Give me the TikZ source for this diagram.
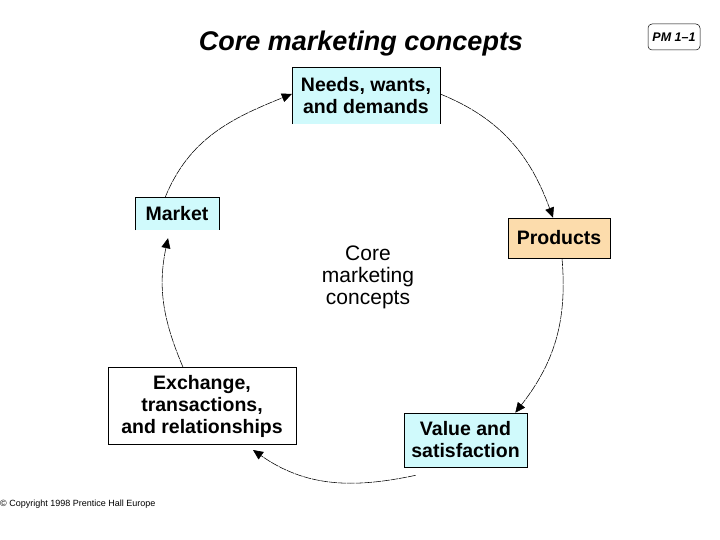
\documentclass[tikz,border=0pt]{standalone}
\usepackage{fontspec}
\setmainfont{Liberation Sans}
\usetikzlibrary{arrows.meta}
\definecolor{lcyan}{RGB}{208,250,252}
\definecolor{lorange}{RGB}{252,220,172}
\tikzset{
  boxtext/.style={font=\fontsize{19.5}{22}\selectfont\bfseries, align=center, inner sep=0pt},
  link/.style={line width=0.55pt, dash pattern=on 8pt off 0.8pt, -{Triangle[length=10pt,width=9pt]}},
}
\begin{document}
\begin{tikzpicture}[x=1pt,y=1pt]
\useasboundingbox (0,0) rectangle (720,540);
% title
\node[font=\fontsize{27}{31}\selectfont\bfseries\itshape] (title) at (361,496) {Core marketing concepts};
\node[draw, rounded corners=4pt, line width=0.5pt, minimum width=52, minimum height=26, inner sep=0pt,
      font=\fontsize{12.5}{14}\selectfont\bfseries\itshape] (pm) at (674,503) {PM 1--1};
% boxes
\node[boxtext, fill=lcyan, minimum width=148, minimum height=56] (needs) at (366,444) {Needs, wants,\\and demands};
\draw[line width=0.6pt] (needs.south west) |- (needs.north east) -- (needs.south east);
\node[boxtext, fill=lcyan, minimum width=84, minimum height=32] (market) at (177,326) {Market};
\draw[line width=0.6pt] (market.south west) |- (market.north east) -- (market.south east);
\node[boxtext, draw, line width=0.6pt, fill=lorange, minimum width=102, minimum height=40] (products) at (559,302) {Products};
\node[boxtext, draw, line width=0.6pt, fill=white, minimum width=188, minimum height=77] (exchange) at (202,134) {Exchange,\\transactions,\\and relationships};
\node[boxtext, draw, line width=0.6pt, fill=lcyan, minimum width=123, minimum height=54] (value) at (465.5,100) {Value and\\satisfaction};
% centre
\node[font=\fontsize{21}{22}\selectfont, align=center] (core) at (368,263) {Core\\marketing\\concepts};
% copyright
\node[font=\fontsize{9}{10}\selectfont, anchor=west, inner sep=0pt] (copy) at (0,36) {\textcopyright\ Copyright 1998 Prentice Hall Europe};
% connectors
\coordinate (m1) at ([xshift=-12pt]market.north);
\coordinate (n1) at ([yshift=2pt]needs.west);
\draw[link] (m1) to[out=68, in=202] (n1);
\coordinate (n2) at ([yshift=2pt]needs.east);
\coordinate (p1) at ([xshift=-6pt]products.north);
\draw[link] (n2) to[out=-22, in=110] (p1);
\coordinate (p2) at ([xshift=3pt]products.south);
\coordinate (v1) at ([xshift=-12pt]value.north east);
\draw[link] (p2) to[out=-85, in=52] (v1);
\coordinate (v2) at ([xshift=12pt,yshift=-8pt]value.south west);
\coordinate (e1) at (253,90);
\draw[link] (v2) to[out=192, in=325] (e1);
\coordinate (e2) at ([xshift=-19pt]exchange.north);
\coordinate (m2) at ([xshift=-9pt,yshift=-8pt]market.south);
\draw[link] (e2) to[out=113, in=258] (m2);
\end{tikzpicture}
\end{document}
